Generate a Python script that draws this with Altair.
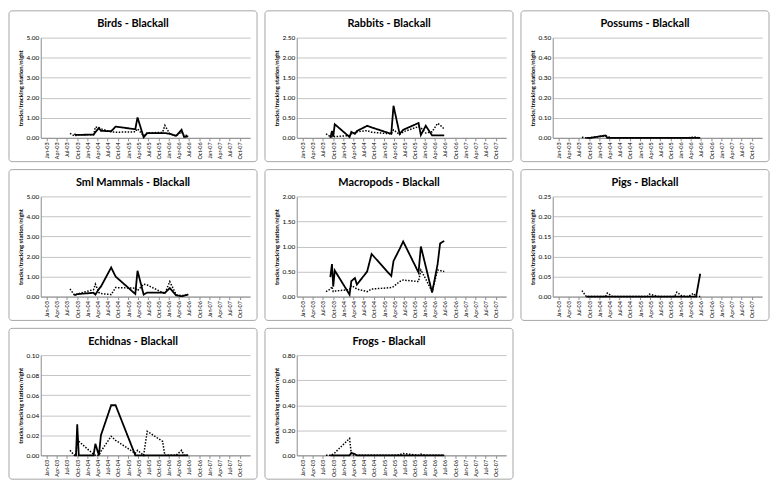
import altair as alt
import pandas as pd

# ---------------- data ----------------
solid_dates = ["2003-09-05", "2003-09-20", "2003-10-01", "2003-10-15", "2004-02-25",
               "2004-03-12", "2004-04-13", "2004-05-01", "2004-08-01", "2004-09-10",
               "2005-03-06", "2005-03-26", "2005-05-20", "2005-06-21", "2005-11-06",
               "2005-11-27", "2006-01-10", "2006-03-08", "2006-04-26", "2006-05-19",
               "2006-06-25"]
dotted_dates = ["2003-07-28"] + solid_dates

species = ["Birds", "Rabbits", "Possums", "Sml Mammals", "Macropods", "Pigs",
           "Echidnas", "Frogs"]

birds_solid = [0.19, 0.15, 0.15, 0.15, 0.16, 0.28, 0.49, 0.35, 0.33, 0.56, 0.43,
               1.02, 0.03, 0.24, 0.24, 0.24, 0.20, 0.10, 0.40, 0.04, 0.08]
birds_dotted = [0.22, 0.10, 0.12, 0.15, 0.15, 0.15, 0.54, 0.50, 0.45, 0.30, 0.28,
                0.30, 0.45, 0.10, 0.25, 0.27, 0.62, 0.20, 0.10, 0.30, 0.10, 0.15]

rabbits_solid = [0.00, 0.17, 0.03, 0.34, 0.02, 0.15, 0.10, 0.17, 0.30, 0.26, 0.10,
                 0.80, 0.10, 0.20, 0.37, 0.07, 0.30, 0.06, 0.06, 0.06, 0.06]
rabbits_dotted = [0.10, 0.03, 0.03, 0.05, 0.03, 0.06, 0.10, 0.12, 0.15, 0.18, 0.14,
                  0.10, 0.20, 0.08, 0.15, 0.28, 0.25, 0.12, 0.15, 0.36, 0.32, 0.22]

possums_solid = [0.0, 0.0, 0.0, 0.0, 0.012, 0.0, 0.0, 0.0, 0.0, 0.0, 0.0,
                 0.0, 0.0, 0.0, 0.0, 0.0, 0.0, 0.0, 0.0, 0.0, 0.0]
possums_dotted = [0.003, 0.0, 0.0, 0.0, 0.002, 0.010, 0.008, 0.0, 0.0, 0.0, 0.0,
                  0.0, 0.0, 0.0, 0.0, 0.0, 0.0, 0.0, 0.0, 0.004, 0.003, 0.0]

sml_solid = [0.07, 0.10, 0.12, 0.13, 0.19, 0.10, 0.38, 0.50, 1.45, 1.00, 0.13,
             1.29, 0.10, 0.20, 0.20, 0.18, 0.43, 0.06, 0.02, 0.05, 0.10]
sml_dotted = [0.38, 0.08, 0.10, 0.12, 0.15, 0.35, 0.62, 0.20, 0.15, 0.10, 0.45,
              0.42, 0.30, 0.62, 0.58, 0.20, 0.15, 0.75, 0.10, 0.05, 0.05, 0.12]

macro_solid = [0.39, 0.65, 0.20, 0.52, 0.04, 0.31, 0.37, 0.24, 0.50, 0.85, 0.41,
               0.71, 0.95, 1.10, 0.48, 1.00, 0.60, 0.08, 0.64, 1.06, 1.11]
macro_dotted = [0.10, 0.15, 0.20, 0.10, 0.11, 0.14, 0.22, 0.18, 0.15, 0.10, 0.15,
                0.18, 0.20, 0.30, 0.33, 0.30, 0.53, 0.35, 0.10, 0.53, 0.52, 0.50]

pigs_solid = [0.0, 0.0, 0.0, 0.0, 0.0, 0.0, 0.0, 0.0, 0.0, 0.0, 0.0,
              0.0, 0.0, 0.0, 0.0, 0.0, 0.0, 0.0, 0.0, 0.0, 0.057]
pigs_dotted = [0.015, 0.0, 0.0, 0.0, 0.0, 0.0, 0.009, 0.003, 0.0, 0.0, 0.0,
               0.0, 0.006, 0.002, 0.0, 0.0, 0.011, 0.002, 0.0, 0.008, 0.0, 0.0]

echidna_solid = [0.0, 0.0, 0.031, 0.0, 0.0, 0.0115, 0.0, 0.020, 0.050, 0.050, 0.0,
                 0.0, 0.0, 0.0, 0.0, 0.0, 0.0, 0.0, 0.0, 0.0, 0.0]
echidna_dotted = [0.005, 0.0, 0.0, 0.016, 0.014, 0.001, 0.0, 0.0, 0.004, 0.019, 0.015,
                  0.002, 0.005, 0.0, 0.024, 0.014, 0.0, 0.0, 0.0, 0.005, 0.0, 0.0]

frogs_solid = [0.0, 0.0, 0.0, 0.0, 0.0, 0.020, 0.010, 0.0, 0.0, 0.0, 0.0,
               0.0, 0.0, 0.0, 0.0, 0.0, 0.0, 0.0, 0.0, 0.0, 0.0]
frogs_dotted = [0.0, 0.0, 0.005, 0.010, 0.020, 0.135, 0.008, 0.0, 0.0, 0.0, 0.0,
                0.0, 0.0, 0.005, 0.015, 0.0, 0.010, 0.0, 0.0, 0.0, 0.0, 0.0]

y_ticks = {
    "Birds": [0.0, 1.0, 2.0, 3.0, 4.0, 5.0],
    "Rabbits": [0.0, 0.5, 1.0, 1.5, 2.0, 2.5],
    "Possums": [0.0, 0.1, 0.2, 0.3, 0.4, 0.5],
    "Sml Mammals": [0.0, 1.0, 2.0, 3.0, 4.0, 5.0],
    "Macropods": [0.0, 0.5, 1.0, 1.5, 2.0],
    "Pigs": [0.0, 0.05, 0.10, 0.15, 0.20, 0.25],
    "Echidnas": [0.0, 0.02, 0.04, 0.06, 0.08, 0.10],
    "Frogs": [0.0, 0.2, 0.4, 0.6, 0.8],
}

x_tick_labels = ["Jan-03", "Apr-03", "Jul-03", "Oct-03", "Jan-04", "Apr-04", "Jul-04",
                 "Oct-04", "Jan-05", "Apr-05", "Jul-05", "Oct-05", "Jan-06", "Apr-06",
                 "Jul-06", "Oct-06", "Jan-07", "Apr-07", "Jul-07", "Oct-07"]

series_values = {
    "Birds": (birds_solid, birds_dotted),
    "Rabbits": (rabbits_solid, rabbits_dotted),
    "Possums": (possums_solid, possums_dotted),
    "Sml Mammals": (sml_solid, sml_dotted),
    "Macropods": (macro_solid, macro_dotted),
    "Pigs": (pigs_solid, pigs_dotted),
    "Echidnas": (echidna_solid, echidna_dotted),
    "Frogs": (frogs_solid, frogs_dotted),
}

# ---------------- chart ----------------
W, H = 211, 101
FONT = "Lato"
TXT = "#000000"
MONTHS = ["Jan", "Feb", "Mar", "Apr", "May", "Jun", "Jul", "Aug", "Sep", "Oct", "Nov", "Dec"]
x_tick_values = [alt.DateTime(year=2000 + int(l[4:]), month=MONTHS.index(l[:3]) + 1, date=1)
                 for l in x_tick_labels]
x_domain = [alt.DateTime(year=2002, month=11, date=7), alt.DateTime(year=2008, month=1, date=2)]


def panel(name):
    solid, dotted = series_values[name]
    df = pd.concat([
        pd.DataFrame({"date": pd.to_datetime(solid_dates), "value": solid, "series": "solid"}),
        pd.DataFrame({"date": pd.to_datetime(dotted_dates), "value": dotted, "series": "dotted"}),
    ])
    ticks = y_ticks[name]
    border = alt.Chart(pd.DataFrame({"k": [0]})).mark_rect(
        fillOpacity=0, stroke="#a6a6a6", strokeWidth=1, cornerRadius=3
    ).encode(x=alt.value(-32), x2=alt.value(W + 7), y=alt.value(-27), y2=alt.value(H + 24))

    lines = alt.Chart(df).mark_line(color="black").encode(
        x=alt.X("date:T", scale=alt.Scale(domain=x_domain),
                axis=alt.Axis(values=x_tick_values, format="%b-%y", labelAngle=-90,
                              labelFontSize=5.5, labelFont=FONT, labelColor=TXT,
                              tickSize=3, tickColor="#8c8c8c", domainColor="#8c8c8c",
                              grid=False, labelPadding=1, labelOverlap=False,
                              labelFlush=False, title=None)),
        y=alt.Y("value:Q", scale=alt.Scale(domain=[0, ticks[-1]], nice=False),
                axis=alt.Axis(values=ticks, format=".2f", labelFontSize=6.5, labelFont=FONT,
                              labelColor=TXT, ticks=False, domainColor="#8c8c8c",
                              gridColor="#c4c4c4", labelPadding=2,
                              title="tracks/tracking station/night", titleFontSize=6,
                              titleFont=FONT, titleFontWeight="bold", titleColor=TXT,
                              titlePadding=3)),
        strokeDash=alt.StrokeDash("series:N",
                                  scale=alt.Scale(domain=["solid", "dotted"],
                                                  range=[[1, 0], [1.5, 1.5]]),
                                  legend=None),
        strokeWidth=alt.StrokeWidth("series:N",
                                    scale=alt.Scale(domain=["solid", "dotted"],
                                                    range=[1.8, 1.5]),
                                    legend=None),
    )
    return alt.layer(border, lines).properties(
        width=W, height=H,
        title=alt.TitleParams(text=f"{name} - Blackall", font=FONT, fontSize=11,
                              fontWeight="bold", color="black", offset=-19, dx=-12.5,
                              anchor="middle", frame="group"),
    )


chart = alt.concat(*[panel(s) for s in species], columns=3, spacing=6).properties(
    padding=0
).configure_view(strokeWidth=0)

chart.save("out.html", embed_options={"renderer": "svg", "actions": False})
